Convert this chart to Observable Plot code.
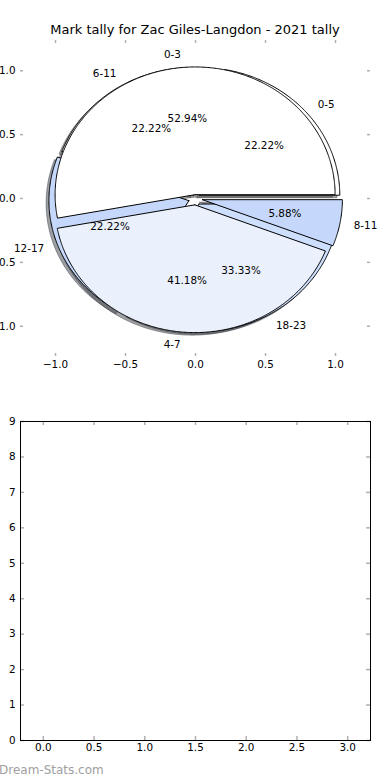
<!DOCTYPE html>
<html><head><meta charset="utf-8">
<script src="https://cdn.jsdelivr.net/npm/d3@7"></script>
<script src="https://cdn.jsdelivr.net/npm/@observablehq/plot@0.6"></script>
<style>
body{margin:0;background:#fff;font-family:"DejaVu Sans",sans-serif;}
#wrap{position:relative;width:390px;height:780px;overflow:hidden;background:#fff;}
#title{position:absolute;top:23px;left:0;width:390px;text-align:center;font-size:13px;line-height:14px;color:#000;}
#topPanel{position:absolute;left:0;top:0;}
#bottomPanel{position:absolute;left:0;top:400px;}
#wm{position:absolute;left:-1px;top:763px;font-size:12px;line-height:14px;color:#a0a0a0;}
</style></head>
<body>
<div id="wrap">
  <div id="topPanel"></div>
  <div id="bottomPanel"></div>
  <div id="title">Mark tally for Zac Giles-Langdon - 2021 tally</div>
  <div id="wm">Dream-Stats.com</div>
</div>
<script>
// ---- data ----
const quarterLabels = ["0-3", "4-7", "8-11"];
const quarterPct = [52.94, 41.18, 5.88];
const quarterExplode = [0.03, 0.05, 0.05];
const quarterColors = ["#ffffff", "#eaf1fd", "#c5d8fb"];

const hourLabels = ["0-5", "6-11", "12-17", "18-23"];
const hourPct = [22.22, 22.22, 22.22, 33.33];
const hourExplode = [0.04, 0.03, 0.05, 0.05];
const hourColors = ["#ffffff", "#ffffff", "#c5d8fb", "#cddffd"];

const pieTicks = [-1, -0.5, 0, 0.5, 1];
const emptyXTicks = [0, 0.5, 1, 1.5, 2, 2.5, 3];
const emptyYTicks = [0, 1, 2, 3, 4, 5, 6, 7, 8, 9];

// ---- helpers ----
const fmt1 = d => d.toFixed(1).replace("-", "\u2212");
function wedges(labels, pct, explode, colors, pieId) {
  const total = d3.sum(pct);
  let a0 = 0;
  return labels.map((lab, i) => {
    const a1 = a0 + pct[i] / total * 2 * Math.PI, am = (a0 + a1) / 2;
    const c = d3.rgb(colors[i]);
    const w = {label: lab, pct: pct[i], color: colors[i],
      shadow: d3.rgb(c.r * 0.3, c.g * 0.3, c.b * 0.3).formatHex(),
      a0, a1, am, cx: explode[i] * Math.cos(am), cy: explode[i] * Math.sin(am), id: pieId + i};
    a0 = a1;
    return w;
  });
}
function outline(w, ox = 0, oy = 0) {
  const pts = [{x: w.cx + ox, y: w.cy + oy}];
  const n = Math.max(2, Math.ceil((w.a1 - w.a0) / (Math.PI / 360)));
  for (let k = 0; k <= n; k++) {
    const a = w.a0 + (w.a1 - w.a0) * k / n;
    pts.push({x: w.cx + ox + Math.cos(a), y: w.cy + oy + Math.sin(a)});
  }
  pts.push({x: w.cx + ox, y: w.cy + oy});
  return pts.map(p => ({...p, id: w.id, color: w.color, shadow: w.shadow}));
}
const hours = wedges(hourLabels, hourPct, hourExplode, hourColors, "h");
const quarters = wedges(quarterLabels, quarterPct, quarterExplode, quarterColors, "q");
const allWedges = [...hours, ...quarters];
const shadowPts = allWedges.flatMap(w => outline(w, -0.02, -0.02));
const hourPts = hours.flatMap(w => outline(w));
const quarterPts = quarters.flatMap(w => outline(w));
const labelPos = allWedges.map(w => ({label: w.label, x: w.cx + 1.1 * Math.cos(w.am), y: w.cy + 1.1 * Math.sin(w.am)}));
const pctPos = allWedges.map(w => ({text: w.pct.toFixed(2) + "%", x: w.cx + 0.6 * Math.cos(w.am), y: w.cy + 0.6 * Math.sin(w.am)}));

const tickColor = "#b0b0b0";
const plotStyle = {fontFamily: "DejaVu Sans", fontSize: "10.4px", background: "transparent", color: "#000", overflow: "visible"};

// ---- top pie panel ----
const W = 390, H1 = 380, mt1 = 40, mb1 = 24, ml = 20, mr = 20;
const fh1 = H1 - mt1 - mb1, fw = W - ml - mr;
const piePlot = Plot.plot({
  width: W, height: H1, marginTop: mt1, marginBottom: mb1, marginLeft: ml, marginRight: mr,
  style: plotStyle,
  x: {domain: [-1.25, 1.25]},
  y: {domain: [-1.237, 1.237]},
  color: {type: "identity"},
  marks: [
    Plot.line(shadowPts, {x: "x", y: "y", z: "id", fill: "shadow", stroke: "shadow", fillOpacity: 0.5, strokeOpacity: 0.5, strokeWidth: 1}),
    Plot.line(hourPts, {x: "x", y: "y", z: "id", fill: "color", stroke: "#000", strokeWidth: 1}),
    Plot.line(quarterPts, {x: "x", y: "y", z: "id", fill: "color", stroke: "#000", strokeWidth: 1}),
    Plot.text(labelPos.filter(d => d.x > 0), {x: "x", y: "y", text: "label", textAnchor: "start", fill: "#000"}),
    Plot.text(labelPos.filter(d => d.x <= 0), {x: "x", y: "y", text: "label", textAnchor: "end", fill: "#000"}),
    Plot.text(pctPos, {x: "x", y: "y", text: "text", fill: "#000"}),
    Plot.tickX(pieTicks, {x: d => d, insetTop: fh1 - 3, stroke: tickColor, strokeWidth: 1.5}),
    Plot.tickX(pieTicks, {x: d => d, insetBottom: fh1 - 3, stroke: tickColor, strokeWidth: 1.5}),
    Plot.tickY(pieTicks, {y: d => d, insetRight: fw - 3, stroke: tickColor, strokeWidth: 1.5}),
    Plot.tickY(pieTicks, {y: d => d, insetLeft: fw - 3, stroke: tickColor, strokeWidth: 1.5}),
    Plot.axisX(pieTicks, {tickSize: 0, tickPadding: 4, tickFormat: fmt1, label: null}),
    Plot.axisY(pieTicks, {tickSize: 0, tickPadding: 5, tickFormat: fmt1, label: null})
  ]
});
document.getElementById("topPanel").appendChild(piePlot);

// ---- bottom empty panel ----
const H2 = 380, mt2 = 21, mb2 = 40;
const fh2 = H2 - mt2 - mb2;
const emptyPlot = Plot.plot({
  width: W, height: H2, marginTop: mt2, marginBottom: mb2, marginLeft: ml, marginRight: mr,
  style: plotStyle,
  x: {domain: [-0.225, 3.225]},
  y: {domain: [0, 9]},
  marks: [
    Plot.tickX(emptyXTicks, {x: d => d, insetTop: fh2 - 4, stroke: tickColor, strokeWidth: 1.5}),
    Plot.tickX(emptyXTicks, {x: d => d, insetBottom: fh2 - 4, stroke: tickColor, strokeWidth: 1.5}),
    Plot.tickY(emptyYTicks, {y: d => d, insetRight: fw - 4, stroke: tickColor, strokeWidth: 1.5}),
    Plot.tickY(emptyYTicks, {y: d => d, insetLeft: fw - 4, stroke: tickColor, strokeWidth: 1.5}),
    Plot.frame({stroke: "#000", strokeWidth: 1}),
    Plot.axisX(emptyXTicks, {tickSize: 0, tickPadding: 3, tickFormat: fmt1, label: null}),
    Plot.axisY(emptyYTicks, {tickSize: 0, tickPadding: 5, tickFormat: d => String(d), label: null})
  ]
});
document.getElementById("bottomPanel").appendChild(emptyPlot);
</script>
</body></html>
